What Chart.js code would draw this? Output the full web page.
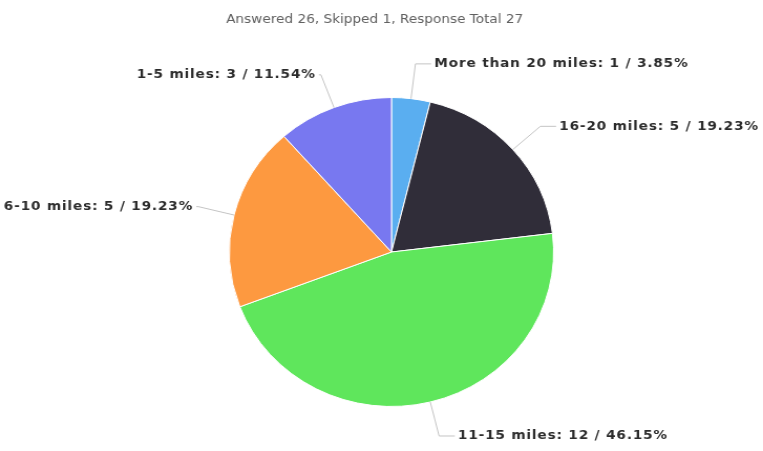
<!DOCTYPE html>
<html>
<head>
<meta charset="utf-8">
<script src="https://cdn.jsdelivr.net/npm/chart.js@4.4.1/dist/chart.umd.min.js"></script>
<style>
  html, body { margin: 0; padding: 0; background: #fff; }
  /* the survey export is slightly wider than tall, so the canvas is stretched a little */
  #distanceChart { width: 763px !important; height: 451px !important; }
</style>
</head>
<body>
<canvas id="distanceChart" width="727" height="451"></canvas>
<script>
// Survey answers: how far do you travel (clockwise from 12 o'clock)
const distanceLabels = ['More than 20 miles', '16-20 miles', '11-15 miles', '6-10 miles', '1-5 miles'];
const distanceCounts = [1, 5, 12, 5, 3];
const sliceColors = ['#5aaef0', '#302d39', '#5fe65c', '#fd9940', '#7878f0'];
const answered = 26;
const skipped = 1;

const total = distanceCounts.reduce((a, b) => a + b, 0);

// Header line plus "label: count / pct%" beside each slice with a thin leader line
const sliceLabels = {
  id: 'sliceLabels',
  afterDatasetsDraw(chart) {
    const ctx = chart.ctx;
    const arcs = chart.getDatasetMeta(0).data;
    ctx.save();

    ctx.font = '13px "DejaVu Sans", Verdana, sans-serif';
    ctx.fillStyle = '#606060';
    ctx.textAlign = 'center';
    ctx.textBaseline = 'middle';
    ctx.fillText(`Answered ${answered}, Skipped ${skipped}, Response Total ${answered + skipped}`, 357, 20);

    ctx.font = 'bold 13px "DejaVu Sans", Verdana, sans-serif';
    ctx.letterSpacing = '0.8px';
    arcs.forEach((arc, i) => {
      const { x, y, startAngle, endAngle, outerRadius } = arc.getProps(['x', 'y', 'startAngle', 'endAngle', 'outerRadius'], true);
      const mid = (startAngle + endAngle) / 2;
      const cos = Math.cos(mid), sin = Math.sin(mid);
      const x0 = x + cos * outerRadius, y0 = y + sin * outerRadius;
      const x1 = x + cos * (outerRadius + 35), y1 = y + sin * (outerRadius + 35);
      const right = cos >= 0;
      const x2 = x1 + (right ? 15 : -2);

      ctx.strokeStyle = '#c4c4c4';
      ctx.lineWidth = 1;
      ctx.beginPath();
      ctx.moveTo(x0, y0);
      ctx.lineTo(x1, y1);
      ctx.lineTo(x2, y1);
      ctx.stroke();

      const pct = (distanceCounts[i] / total * 100).toFixed(2);
      ctx.fillStyle = '#2b2b2b';
      ctx.textAlign = right ? 'left' : 'right';
      ctx.fillText(`${distanceLabels[i]}: ${distanceCounts[i]} / ${pct}%`, x2 + (right ? 3 : -3), y1);
    });
    ctx.restore();
  }
};

const distanceCtx = document.getElementById('distanceChart').getContext('2d');
const distanceChart = new Chart(distanceCtx, {
  type: 'pie',
  data: {
    labels: distanceLabels,
    datasets: [{
      data: distanceCounts,
      backgroundColor: sliceColors,
      borderColor: '#ffffff',
      borderWidth: 1
    }]
  },
  options: {
    responsive: false,
    animation: false,
    layout: {
      padding: { left: 19, right: 0, top: 97, bottom: 44 }
    },
    plugins: {
      legend: { display: false },
      tooltip: { enabled: false },
      title: { display: false }
    }
  },
  plugins: [sliceLabels]
});
</script>
</body>
</html>
